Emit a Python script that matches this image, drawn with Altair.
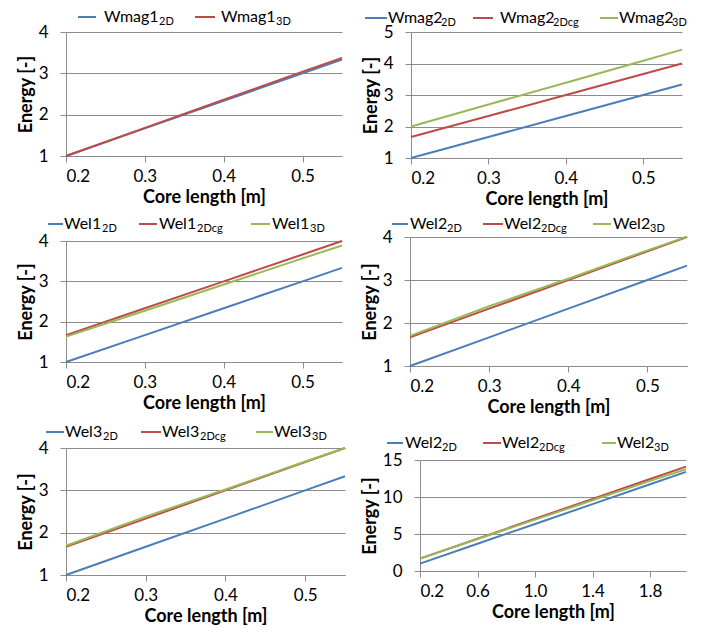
import altair as alt
import pandas as pd

# ---------------- data ----------------
x_short = [0.2, 0.3, 0.4, 0.5, 0.55]
x_long = [0.2, 0.6, 1.0, 1.4, 1.8, 2.05]

wmag1_2d = [1.0, 1.667, 2.333, 3.0, 3.333]
wmag1_3d = [1.0, 1.68, 2.36, 3.04, 3.37]

wmag2_2d = [1.0, 1.667, 2.333, 3.0, 3.333]
wmag2_2dcg = [1.667, 2.333, 3.0, 3.667, 4.0]
wmag2_3d = [2.0, 2.70, 3.39, 4.09, 4.44]

wel1_2d = [1.0, 1.667, 2.333, 3.0, 3.333]
wel1_2dcg = [1.667, 2.333, 3.0, 3.667, 4.0]
wel1_3d = [1.63, 2.27, 2.92, 3.57, 3.89]

wel2_2d = [1.0, 1.667, 2.333, 3.0, 3.333]
wel2_2dcg = [1.667, 2.333, 3.0, 3.667, 4.0]
wel2_3d = [1.70, 2.39, 3.03, 3.69, 4.01]

wel3_2d = [1.0, 1.667, 2.333, 3.0, 3.333]
wel3_2dcg = [1.667, 2.333, 3.0, 3.667, 4.0]
wel3_3d = [1.69, 2.38, 3.02, 3.68, 4.0]

wel2L_2d = [1.0, 3.68, 6.36, 9.04, 11.72, 13.4]
wel2L_2dcg = [1.67, 4.36, 7.06, 9.75, 12.44, 14.1]
wel2L_3d = [1.7, 4.32, 6.94, 9.56, 12.18, 13.75]

ticks_short = [0.2, 0.3, 0.4, 0.5]
ticks_long = [0.2, 0.6, 1.0, 1.4, 1.8]

FONT = "Lato"
BLUE, RED, GREEN = "#4A7EBB", "#BE4B48", "#98B954"
GRID = "#8C8C8C"

one = pd.DataFrame({"k": [0]})


def legend_layers(base, subs, colors, items, ly, sub_dx):
    layers = []
    for sub, col, (a, b, tx) in zip(subs, colors, items):
        layers.append(alt.Chart(one).mark_rule(color=col, strokeWidth=2).encode(
            x=alt.value(a), x2=alt.value(b), y=alt.value(ly)))
        layers.append(alt.Chart(one).mark_text(
            text=base, align="left", baseline="alphabetic", font=FONT,
            fontSize=16, color="black").encode(x=alt.value(tx), y=alt.value(ly + 4.5)))
        layers.append(alt.Chart(one).mark_text(
            text=sub, align="left", baseline="alphabetic", font=FONT,
            fontSize=11, color="black").encode(x=alt.value(tx + sub_dx), y=alt.value(ly + 8)))
    return layers


def panel(xs, series, base, subs, colors, xdom, xticks, ydom, yticks, w, h,
          items, ly, sub_dx, top=0):
    rows = []
    for i, (sub, col, vals) in enumerate(zip(subs, colors, series)):
        for xv, yv in zip(xs, vals):
            rows.append({"x": xv, "E": yv, "s": f"{i}_{sub}", "c": col})
    df = pd.DataFrame(rows)
    yscale = alt.Scale(domain=ydom, nice=False, zero=False)
    if top:
        yscale = alt.Scale(domain=ydom, nice=False, zero=False, range=[h, top])
    lines = alt.Chart(df).mark_line(strokeWidth=2).encode(
        x=alt.X("x:Q", scale=alt.Scale(domain=xdom, nice=False, zero=False),
                axis=alt.Axis(values=xticks, format=".1f", title="Core length [m]")),
        y=alt.Y("E:Q", scale=yscale,
                axis=alt.Axis(values=yticks, format="d", title="Energy [-]")),
        color=alt.Color("c:N", scale=None),
        detail="s:N",
    )
    layers = [lines] + legend_layers(base, subs, colors, items, ly, sub_dx)
    return alt.layer(*layers).properties(width=w, height=h)


c3 = [BLUE, RED, GREEN]
s3 = ["2D", "2Dcg", "3D"]

p1 = panel(x_short, [wmag1_2d, wmag1_3d], "Wmag1", ["2D", "3D"], [BLUE, RED],
           [0.2, 0.55], ticks_short, [1, 4], [1, 2, 3, 4], 276, 124,
           [(12, 30, 38), (129, 149, 155)], -15, 55)
p2 = panel(x_short, [wmag2_2d, wmag2_2dcg, wmag2_3d], "Wmag2", s3, c3,
           [0.2, 0.55], ticks_short, [1, 5], [1, 2, 3, 4, 5], 271, 126,
           [(-46, -24, -23), (62, 82, 89), (189, 207, 208)], -14, 53)
p3 = panel(x_short, [wel1_2d, wel1_2dcg, wel1_3d], "Wel1", s3, c3,
           [0.2, 0.55], ticks_short, [1, 4], [1, 2, 3, 4], 276, 125,
           [(-18, -3, -2), (73, 91, 93), (185, 204, 206)], -13, 38, top=4)
p4 = panel(x_short, [wel2_2d, wel2_2dcg, wel2_3d], "Wel2", s3, c3,
           [0.2, 0.55], ticks_short, [1, 4], [1, 2, 3, 4], 277, 129,
           [(-18, -2, 0), (73, 93, 94), (183, 201, 203)], -13, 37)
p5 = panel(x_short, [wel3_2d, wel3_2dcg, wel3_3d], "Wel3", s3, c3,
           [0.2, 0.55], ticks_short, [1, 4], [1, 2, 3, 4], 279, 127,
           [(-20, -2, -1), (75, 95, 96), (190, 207, 208)], -16, 38)
p6 = panel(x_long, [wel2L_2d, wel2L_2dcg, wel2L_3d], "Wel2", s3, c3,
           [0.2, 2.05], ticks_long, [0, 15], [0, 5, 10, 15], 266, 123,
           [(-33, -17, -15), (63, 81, 82), (182, 196, 197)], -5, 37, top=12)

chart = alt.vconcat(
    alt.hconcat(p1, p2, spacing=16),
    alt.hconcat(p3, p4, spacing=15),
    alt.hconcat(p5, p6, spacing=12),
    spacing=7,
).properties(
    padding={"left": 9, "top": 0, "right": 0, "bottom": 0}
).configure_view(stroke=None).configure_axis(
    labelFont=FONT, labelFontSize=17, labelColor="black",
    titleFont=FONT, titleFontSize=18, titleFontWeight="bold", titleColor="black",
    domainColor=GRID, tickColor=GRID, gridColor=GRID, tickSize=6,
).configure_axisX(grid=False, labelPadding=6, titlePadding=4
).configure_axisY(grid=True, labelPadding=12, titlePadding=3)

chart.save("out.html", embed_options={"renderer": "svg", "actions": False})
